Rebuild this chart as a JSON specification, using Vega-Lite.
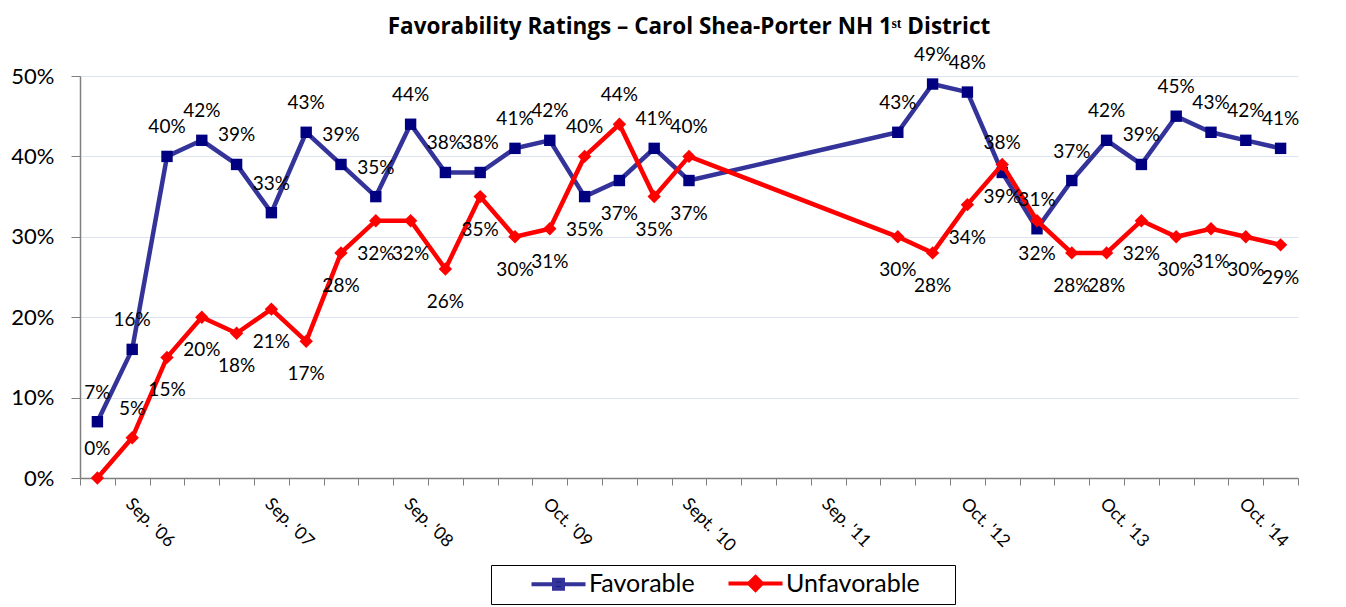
{
  "$schema": "https://vega.github.io/schema/vega-lite/v6.json",
  "width": 1218,
  "height": 402,
  "autosize": {"type": "none"},
  "padding": {"left": 80, "top": 76, "right": 48, "bottom": 129},
  "background": "white",
  "title": {
    "text": "Favorability Ratings – Carol Shea-Porter NH 1ˢᵗ District",
    "font": "Open Sans",
    "fontSize": 22.5,
    "fontWeight": "bold",
    "color": "black",
    "anchor": "middle",
    "offset": 8
  },
  "data": {
    "values": [
      {"idx": 0, "series": "Favorable", "value": 0.07},
      {"idx": 1, "series": "Favorable", "value": 0.16},
      {"idx": 2, "series": "Favorable", "value": 0.40},
      {"idx": 3, "series": "Favorable", "value": 0.42},
      {"idx": 4, "series": "Favorable", "value": 0.39},
      {"idx": 5, "series": "Favorable", "value": 0.33},
      {"idx": 6, "series": "Favorable", "value": 0.43},
      {"idx": 7, "series": "Favorable", "value": 0.39},
      {"idx": 8, "series": "Favorable", "value": 0.35},
      {"idx": 9, "series": "Favorable", "value": 0.44},
      {"idx": 10, "series": "Favorable", "value": 0.38},
      {"idx": 11, "series": "Favorable", "value": 0.38},
      {"idx": 12, "series": "Favorable", "value": 0.41},
      {"idx": 13, "series": "Favorable", "value": 0.42},
      {"idx": 14, "series": "Favorable", "value": 0.35},
      {"idx": 15, "series": "Favorable", "value": 0.37},
      {"idx": 16, "series": "Favorable", "value": 0.41},
      {"idx": 17, "series": "Favorable", "value": 0.37},
      {"idx": 23, "series": "Favorable", "value": 0.43},
      {"idx": 24, "series": "Favorable", "value": 0.49},
      {"idx": 25, "series": "Favorable", "value": 0.48},
      {"idx": 26, "series": "Favorable", "value": 0.38},
      {"idx": 27, "series": "Favorable", "value": 0.31},
      {"idx": 28, "series": "Favorable", "value": 0.37},
      {"idx": 29, "series": "Favorable", "value": 0.42},
      {"idx": 30, "series": "Favorable", "value": 0.39},
      {"idx": 31, "series": "Favorable", "value": 0.45},
      {"idx": 32, "series": "Favorable", "value": 0.43},
      {"idx": 33, "series": "Favorable", "value": 0.42},
      {"idx": 34, "series": "Favorable", "value": 0.41},
      {"idx": 0, "series": "Unfavorable", "value": 0.00},
      {"idx": 1, "series": "Unfavorable", "value": 0.05},
      {"idx": 2, "series": "Unfavorable", "value": 0.15},
      {"idx": 3, "series": "Unfavorable", "value": 0.20},
      {"idx": 4, "series": "Unfavorable", "value": 0.18},
      {"idx": 5, "series": "Unfavorable", "value": 0.21},
      {"idx": 6, "series": "Unfavorable", "value": 0.17},
      {"idx": 7, "series": "Unfavorable", "value": 0.28},
      {"idx": 8, "series": "Unfavorable", "value": 0.32},
      {"idx": 9, "series": "Unfavorable", "value": 0.32},
      {"idx": 10, "series": "Unfavorable", "value": 0.26},
      {"idx": 11, "series": "Unfavorable", "value": 0.35},
      {"idx": 12, "series": "Unfavorable", "value": 0.30},
      {"idx": 13, "series": "Unfavorable", "value": 0.31},
      {"idx": 14, "series": "Unfavorable", "value": 0.40},
      {"idx": 15, "series": "Unfavorable", "value": 0.44},
      {"idx": 16, "series": "Unfavorable", "value": 0.35},
      {"idx": 17, "series": "Unfavorable", "value": 0.40},
      {"idx": 23, "series": "Unfavorable", "value": 0.30},
      {"idx": 24, "series": "Unfavorable", "value": 0.28},
      {"idx": 25, "series": "Unfavorable", "value": 0.34},
      {"idx": 26, "series": "Unfavorable", "value": 0.39},
      {"idx": 27, "series": "Unfavorable", "value": 0.32},
      {"idx": 28, "series": "Unfavorable", "value": 0.28},
      {"idx": 29, "series": "Unfavorable", "value": 0.28},
      {"idx": 30, "series": "Unfavorable", "value": 0.32},
      {"idx": 31, "series": "Unfavorable", "value": 0.30},
      {"idx": 32, "series": "Unfavorable", "value": 0.31},
      {"idx": 33, "series": "Unfavorable", "value": 0.30},
      {"idx": 34, "series": "Unfavorable", "value": 0.29}
    ]
  },
  "encoding": {
    "x": {
      "field": "idx",
      "type": "quantitative",
      "scale": {"domain": [-0.5, 34.5], "nice": false, "zero": false},
      "axis": {
        "title": null,
        "grid": false,
        "values": [-0.5, 0.5, 1.5, 2.5, 3.5, 4.5, 5.5, 6.5, 7.5, 8.5, 9.5, 10.5, 11.5, 12.5, 13.5, 14.5, 15.5, 16.5, 17.5, 18.5, 19.5, 20.5, 21.5, 22.5, 23.5, 24.5, 25.5, 26.5, 27.5, 28.5, 29.5, 30.5, 31.5, 32.5, 33.5, 34.5],
        "labelExpr": "datum.value == 0.5 ? \"Sep. '06\" : datum.value == 4.5 ? \"Sep. '07\" : datum.value == 8.5 ? \"Sep. '08\" : datum.value == 12.5 ? \"Oct. '09\" : datum.value == 16.5 ? \"Sept. '10\" : datum.value == 20.5 ? \"Sep. '11\" : datum.value == 24.5 ? \"Oct. '12\" : datum.value == 28.5 ? \"Oct. '13\" : datum.value == 32.5 ? \"Oct. '14\" : ''",
        "labelAngle": 45,
        "labelAlign": "left",
        "labelBaseline": "middle",
        "labelOffset": 13,
        "labelPadding": 16,
        "labelOverlap": false,
        "labelBound": false,
        "labelFlush": false,
        "labelFont": "Lato",
        "labelFontSize": 17.5,
        "labelColor": "black",
        "tickSize": 7,
        "tickColor": "#7F7F7F",
        "tickWidth": 1,
        "domainColor": "#7F7F7F",
        "domainWidth": 1.5
      }
    },
    "y": {
      "field": "value",
      "type": "quantitative",
      "scale": {"domain": [0, 0.5], "nice": false},
      "axis": {
        "title": null,
        "values": [0, 0.1, 0.2, 0.3, 0.4, 0.5],
        "format": ".0%",
        "grid": true,
        "gridColor": "#DCE3EF",
        "gridWidth": 1,
        "labelFont": "Lato",
        "labelFontSize": 22,
        "labelColor": "black",
        "labelPadding": 17,
        "tickSize": 9,
        "tickColor": "#7F7F7F",
        "domainColor": "#7F7F7F",
        "domainWidth": 1.5
      }
    }
  },
  "layer": [
    {
      "transform": [{"filter": "datum.series == 'Favorable'"}],
      "mark": {"type": "line", "strokeWidth": 4.5},
      "encoding": {
        "color": {
          "field": "series",
          "type": "nominal",
          "scale": {"domain": ["Favorable", "Unfavorable"], "range": ["#333399", "#FF0000"]},
          "legend": {
            "title": "\u00a0",
            "titleOrient": "left",
            "titleFontSize": 2,
            "titlePadding": 49,
            "orient": "none",
            "legendX": 411,
            "legendY": 489,
            "direction": "horizontal",
            "strokeColor": "black",
            "fillColor": "white",
            "padding": 6,
            "labelFont": "Lato",
            "labelFontSize": 25,
            "labelColor": "black",
            "symbolSize": 100,
            "symbolStrokeWidth": 4,
            "labelOffset": 18,
            "columnPadding": 25,
            "encode": {
              "symbols": {
                "update": {
                  "shape": {"signal": "datum.value === 'Favorable' ? 'M-5.4,0H5.4M-0.9,-0.9H0.9V0.9H-0.9Z' : 'M-5.4,0H5.4M0,-1.3L1.3,0L0,1.3L-1.3,0ZM37.0,0H37.001'"},
                  "fill": {"signal": "datum.value === 'Favorable' ? '#000080' : '#FF0000'"},
                  "fillOpacity": {"value": 1}
                }
              }
            }
          }
        }
      }
    },
    {
      "transform": [{"filter": "datum.series == 'Favorable'"}],
      "mark": {"type": "point", "shape": "square", "filled": true, "size": 130, "color": "#000080", "opacity": 1}
    },
    {
      "transform": [{"filter": "datum.series == 'Unfavorable'"}],
      "mark": {"type": "line", "strokeWidth": 4.5},
      "encoding": {"color": {"field": "series", "type": "nominal"}}
    },
    {
      "transform": [{"filter": "datum.series == 'Unfavorable'"}],
      "mark": {"type": "point", "shape": "diamond", "filled": true, "size": 180, "color": "#FF0000", "opacity": 1}
    },
    {
      "transform": [{"filter": "(datum.series == 'Favorable' && indexof([14, 15, 17], datum.idx) < 0) || (datum.series == 'Unfavorable' && indexof([0, 1, 14, 15, 17], datum.idx) >= 0)"}],
      "mark": {"type": "text", "dy": -29, "font": "Lato", "fontSize": 19, "color": "black"},
      "encoding": {"text": {"field": "value", "type": "quantitative", "format": ".0%"}}
    },
    {
      "transform": [{"filter": "!((datum.series == 'Favorable' && indexof([14, 15, 17], datum.idx) < 0) || (datum.series == 'Unfavorable' && indexof([0, 1, 14, 15, 17], datum.idx) >= 0))"}],
      "mark": {"type": "text", "dy": 33, "font": "Lato", "fontSize": 19, "color": "black"},
      "encoding": {"text": {"field": "value", "type": "quantitative", "format": ".0%"}}
    }
  ],
  "config": {
    "view": {"stroke": null}
  }
}
